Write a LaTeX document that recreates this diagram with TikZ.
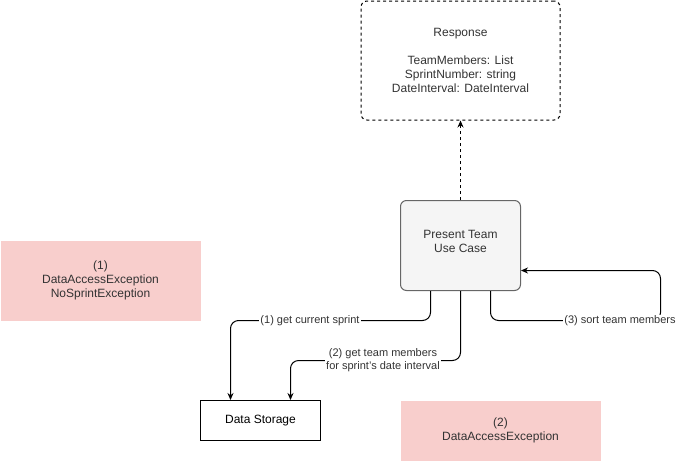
\documentclass[tikz,border=0pt]{standalone}
\usepackage{fontspec}
\setmainfont{Liberation Sans}
\usetikzlibrary{arrows.meta}
\definecolor{errfill}{HTML}{F8CECC}
\definecolor{ucfill}{HTML}{F5F5F5}
\definecolor{ucline}{HTML}{666666}
\definecolor{txt}{HTML}{333333}
\tikzset{
  box/.style={draw=black, line width=1pt, minimum width=#1, align=center,
    font=\fontsize{12}{14}\selectfont, inner sep=0pt},
  errbox/.style={fill=errfill, draw=none, align=center, text=txt,
    font=\fontsize{12}{14}\selectfont, inner sep=0pt},
  flow/.style={line width=1pt, rounded corners=8pt, -{Stealth[length=7pt,width=6pt]}},
  lbl/.style={fill=white, inner sep=1pt, align=center, text=txt,
    font=\fontsize{11}{13}\selectfont}
}
\begin{document}
\begin{tikzpicture}[x=1pt,y=-1pt]
\useasboundingbox (0,0) rectangle (677,461);
% response object
\node[box, dashed, rounded corners=6pt, minimum width=199pt, minimum height=119pt, text=txt]
  (resp) at (460.5,60.5) {Response\\[14pt]TeamMembers: List\\SprintNumber: string\\DateInterval: DateInterval};
% use case (caption sits a little above the centre)
\node[box, draw=ucline, fill=ucfill, rounded corners=6pt, minimum width=120pt, minimum height=90pt, text=txt,
  label={[text=txt, align=center, font=\fontsize{12}{14}\selectfont, yshift=4pt]center:Present Team\\Use Case}]
  (uc) at (460.5,245.5) {};
% storage
\node[box, minimum width=120pt, minimum height=40pt] (ds) at (260.5,420.5) {Data Storage};
% exception notes
\node[errbox, minimum width=200pt, minimum height=80pt] (e1) at (100.5,280.5)
  {(1)\\DataAccessException\\NoSprintException};
\node[errbox, minimum width=200pt, minimum height=60pt] (e2) at (500.5,430.5)
  {(2)\\DataAccessException};
% connectors
\coordinate (uc1) at ([xshift=-30pt]uc.south);
\coordinate (uc3) at ([xshift=30pt]uc.south);
\coordinate (ds1) at ([xshift=-30pt]ds.north);
\coordinate (ds2) at ([xshift=30pt]ds.north);
\coordinate (ucr) at ([yshift=-25pt]uc.east);
\draw[line width=1pt, dashed, -{Stealth[length=7pt,width=6pt]}] (uc.north) -- (resp.south);
\draw[flow] (uc1) |- (330,320.5) -| (ds1);
\node[lbl] at (310,321) {(1) get current sprint};
\draw[flow] (uc.south) |- (370,360.5) -| (ds2);
\node[lbl] at (383,360) {(2) get team members\\for sprint's date interval};
\draw[flow] (uc3) |- (660.5,320.5) |- (ucr);
\node[lbl] at (620,321) {(3) sort team members};
\end{tikzpicture}
\end{document}
